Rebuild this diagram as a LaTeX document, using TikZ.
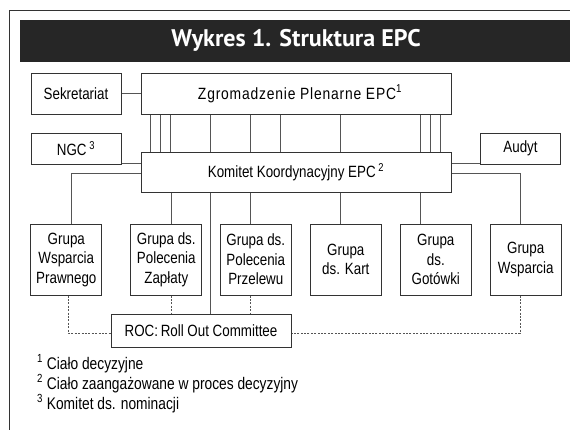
\documentclass[tikz,border=0pt]{standalone}
\usepackage{fontspec}
\usepackage{tikz}
\usetikzlibrary{positioning}
\setmainfont{Liberation Sans}
\newfontfamily\boxfont[FakeStretch=0.82]{Liberation Sans}
\newfontfamily\spacedfont[FakeStretch=0.85, LetterSpace=5]{Liberation Sans}
\newfontfamily\titlefont{PT Sans}
\definecolor{ink}{RGB}{51,51,51}
\definecolor{band}{RGB}{38,38,38}
\definecolor{wire}{RGB}{85,85,85}
\newcommand{\fn}[1]{\textsuperscript{#1}}

\begin{document}
\begin{tikzpicture}[
  x=1pt, y=-1pt,
  unit/.style={draw=ink, line width=1pt, fill=white, align=center, inner sep=0pt,
               font=\boxfont\fontsize{16.3}{19.5}\selectfont},
  grupa/.style={unit, minimum width=70.7pt, minimum height=71pt},
  note/.style={inner sep=0pt, font=\boxfont\fontsize{16.8}{19}\selectfont},
  link/.style={draw=wire, line width=0.9pt},
  dotlink/.style={link, dash pattern=on 2pt off 1.4pt},
]
\useasboundingbox (0,0) rectangle (570,429);
% frame and title band
\draw[ink, line width=1.3pt] (9.5,10.5) rectangle (590,450);
\fill[band] (19.5,19.5) rectangle (590,61.7);
\node[text=white, font=\titlefont\bfseries\fontsize{24}{24}\selectfont] (title) at (296,40.5) {Wykres 1. Struktura EPC};

\node[unit, minimum width=90pt, minimum height=40.7pt] (sek) at (76,93.7) {Sekretariat};
\node[unit, minimum width=310pt, minimum height=40.7pt, font=\spacedfont\fontsize{16.3}{19.5}\selectfont] (zp) at (296,93.7) {\hspace{8pt}Zgromadzenie Plenarne EPC\fn{1}};
\node[unit, minimum width=90pt, minimum height=31pt] (ngc) at (76,148.5) {NGC\,\fn{3}};
\node[unit, minimum width=310pt, minimum height=40pt] (kk) at (296,172) {Komitet Koordynacyjny EPC\,\fn{2}};
\node[unit, minimum width=80.7pt, minimum height=31pt] (audyt) at (520.5,148.5) {Audyt};

\node[grupa] (g1) at (66.3,259.5) {Grupa\\Wsparcia\\Prawnego};
\node[grupa] (g2) at (166.3,259.5) {Grupa ds.\\Polecenia\\Zapłaty};
\node[grupa] (g3) at (255.8,259.5) {Grupa ds.\\Polecenia\\Przelewu};
\node[grupa] (g4) at (345.8,259.5) {Grupa\\ds. Kart};
\node[grupa] (g5) at (435.8,259.5) {Grupa\\ds.\\Gotówki};
\node[grupa] (g6) at (525.7,259.5) {Grupa\\Wsparcia};

\node[unit, minimum width=180pt, minimum height=33pt] (roc) at (201,330.5) {ROC:\,Roll Out Committee};

% connectors
\draw[link] (sek) -- (zp);
\draw[link] (ngc.east |- 0,163) -- (kk.west |- 0,163);
\draw[link] (audyt.west |- 0,163) -- (kk.east |- 0,163);
\draw[link] (kk.west |- 0,173) -| (g1.north -| 71,0);
\draw[link] (kk.east |- 0,173) -| (g6.north -| 520,0);
\foreach \x in {150.7,160.7,170.7,210.7,250.7,280.7,340.7,420.7,430.7,440.7}
  \draw[link] (zp.south -| \x,0) -- (kk.north -| \x,0);
\foreach \x/\g in {171/g2, 250.7/g3, 340.7/g4, 420.7/g5}
  \draw[link] (kk.south -| \x,0) -- (\g.north -| \x,0);
\draw[link] (kk.south -| 210.7,0) -- (roc.north -| 210.7,0);
\draw[dotlink] (g2.south -| 171,0) -- (roc.north -| 171,0);
\draw[dotlink] (g3.south -| 250.7,0) -- (roc.north -| 250.7,0);
\draw[dotlink] (g1.south -| 68,0) |- (roc.west |- 0,333);
\draw[dotlink] (g6.south -| 520,0) |- (roc.east |- 0,333);

% notes
\node[note, anchor=base west] (n1) at (37,369) {\fn{1} Ciało decyzyjne};
\node[note, anchor=base west] (n2) at (37,389) {\fn{2} Ciało zaangażowane w proces decyzyjny};
\node[note, anchor=base west] (n3) at (37,409) {\fn{3} Komitet ds. nominacji};
\end{tikzpicture}
\end{document}
